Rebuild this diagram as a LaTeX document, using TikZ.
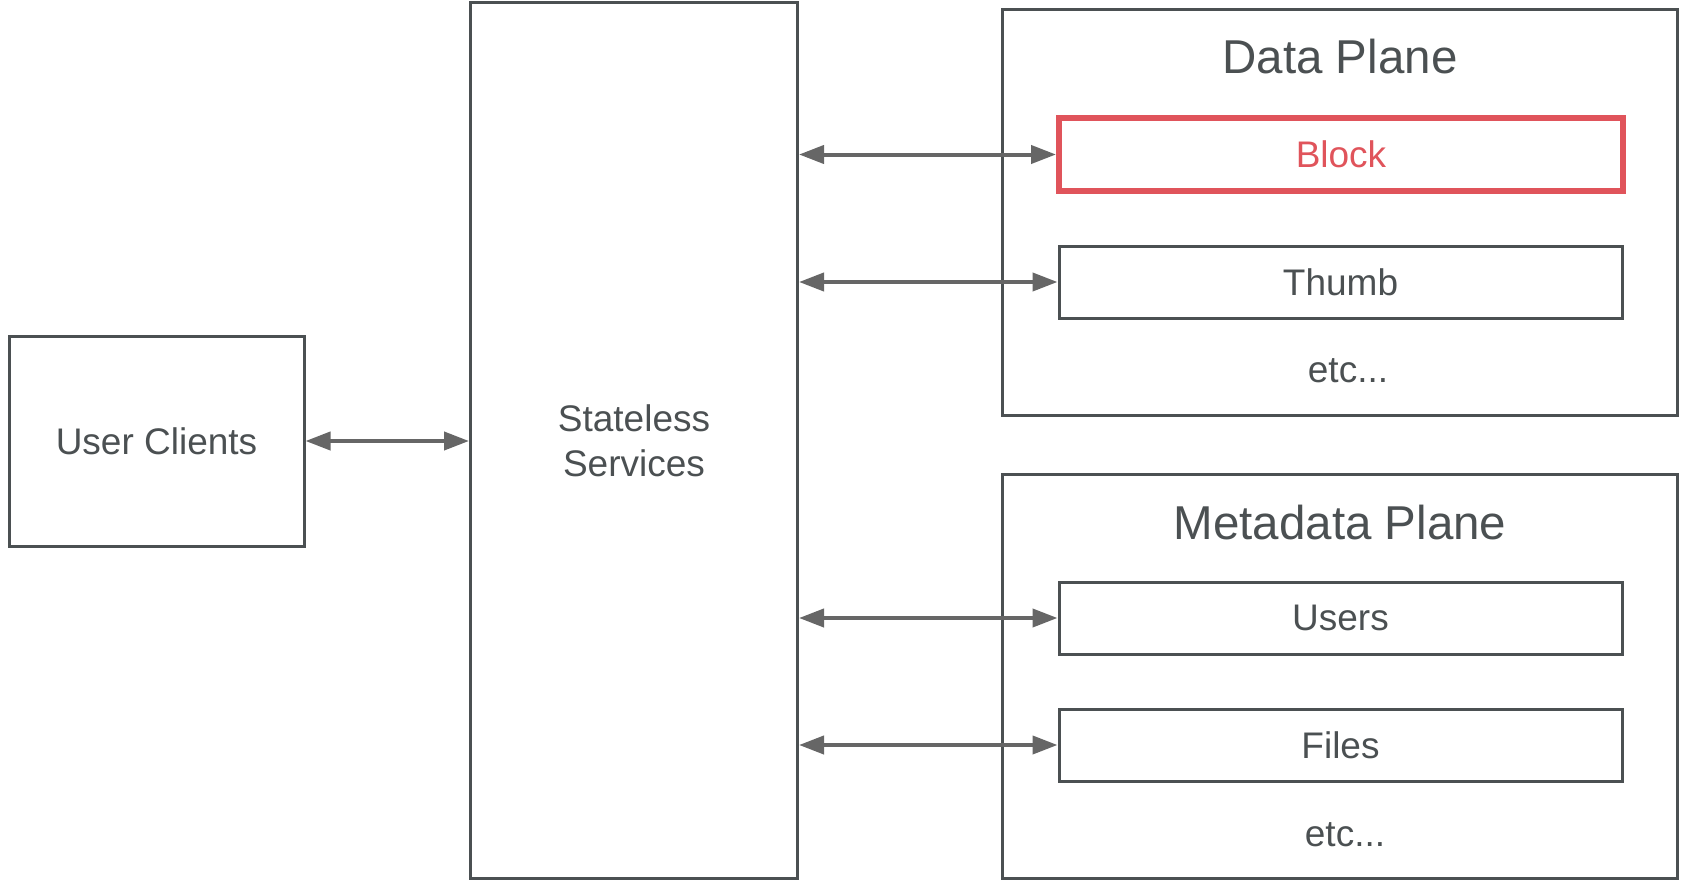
\documentclass[tikz,border=0pt]{standalone}
\usepackage{fontspec}
\setmainfont{Liberation Sans}
\usetikzlibrary{arrows.meta}

\definecolor{inkgray}{HTML}{4B5052}
\definecolor{arrowgray}{HTML}{666666}
\definecolor{blockred}{HTML}{E0545B}

\begin{document}
\begin{tikzpicture}[x=1pt,y=-1pt,
    box/.style={draw=inkgray, line width=3pt, rectangle, inner sep=0pt,
                text=inkgray, font=\fontsize{37}{45}\selectfont, align=center},
    hotbox/.style={box, draw=blockred, line width=6pt, text=blockred},
    plane/.style={draw=inkgray, line width=3pt, rectangle, inner sep=0pt},
    title/.style={text=inkgray, font=\fontsize{47.5}{56}\selectfont},
    note/.style={text=inkgray, font=\fontsize{37}{45}\selectfont},
    biarrow/.style={draw=arrowgray, line width=4pt,
                    {Triangle[length=25pt,width=18pt]}-{Triangle[length=25pt,width=18pt]}}]
  \useasboundingbox (0,0) rectangle (1683,880);

  % left side
  \node[box, minimum width=295pt, minimum height=210pt] (client) at (156.5,441) {User Clients};
  \node[box, minimum width=327pt, minimum height=875pt] (state) at (634,440.5) {Stateless\\Services};

  % data plane
  \node[plane, minimum width=675pt, minimum height=405pt] (dplane) at (1340,212.5) {};
  \node[title] (dtitle) at (1340,57) {Data Plane};
  \node[hotbox, minimum width=564pt, minimum height=73pt] (block) at (1341,154.5) {Block};
  \node[box, minimum width=563pt, minimum height=72pt] (thumb) at (1340.5,282) {Thumb};
  \node[note] (detc) at (1348,371) {etc...};

  % metadata plane
  \node[plane, minimum width=675pt, minimum height=404pt] (mplane) at (1340,676) {};
  \node[title] (mtitle) at (1340,523) {Metadata Plane};
  \node[box, minimum width=563pt, minimum height=72pt] (users) at (1340.5,618) {Users};
  \node[box, minimum width=563pt, minimum height=72pt] (files) at (1340.5,745) {Files};
  \node[note] (metc) at (1345,835) {etc...};

  % connectors
  \draw[biarrow] (client.east) -- (client.east -| state.west);
  \foreach \target in {block,thumb,users,files}
    \draw[biarrow] (\target.west -| state.east) -- (\target.west);
\end{tikzpicture}
\end{document}
